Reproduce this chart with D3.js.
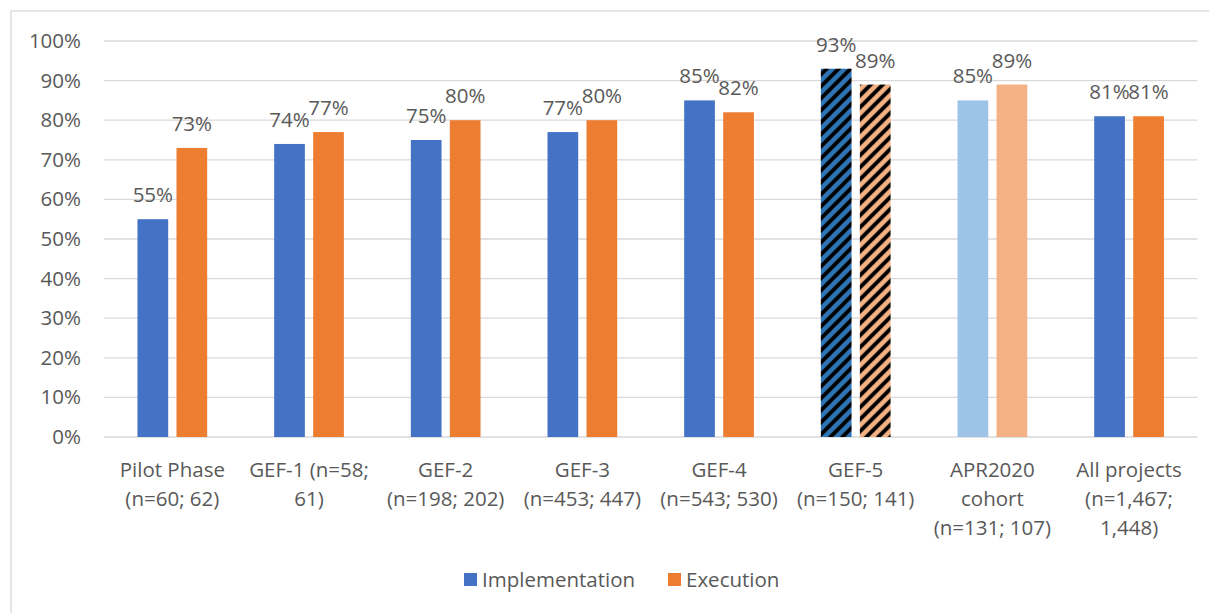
<!DOCTYPE html>
<html>
<head>
<meta charset="utf-8">
<script src="https://cdn.jsdelivr.net/npm/d3@7"></script>
<style>
  html, body { margin: 0; padding: 0; background: #fff; }
  svg { display: block; }
  text { font-family: "Open Sans", "Noto Sans", sans-serif; fill: #595959; }
</style>
</head>
<body>
<svg id="chart" width="1209" height="613"></svg>
<script>
// ---- data ----
const categories = ["Pilot Phase", "GEF-1", "GEF-2", "GEF-3", "GEF-4", "GEF-5", "APR2020 cohort", "All projects"];
const categoryLabelLines = [
  ["Pilot Phase", "(n=60; 62)"],
  ["GEF-1 (n=58;", "61)"],
  ["GEF-2", "(n=198; 202)"],
  ["GEF-3", "(n=453; 447)"],
  ["GEF-4", "(n=543; 530)"],
  ["GEF-5", "(n=150; 141)"],
  ["APR2020", "cohort", "(n=131; 107)"],
  ["All projects", "(n=1,467;", "1,448)"]
];
const seriesNames = ["Implementation", "Execution"];
const implementation = [0.55, 0.74, 0.75, 0.77, 0.85, 0.93, 0.85, 0.81];
const execution = [0.73, 0.77, 0.80, 0.80, 0.82, 0.89, 0.89, 0.81];
const yTicks = [0, 0.1, 0.2, 0.3, 0.4, 0.5, 0.6, 0.7, 0.8, 0.9, 1.0];

// ---- styling ----
const baseColors = { Implementation: "#4472C4", Execution: "#ED7D31" };
const hatchedCategory = "GEF-5";
const lightCategory = "APR2020 cohort";
const hatchBase = { Implementation: "#2E75B6", Execution: "#F4B183" };
const lightColors = { Implementation: "#9DC3E6", Execution: "#F4B183" };
const FS = "20.5px";

const svg = d3.select("#chart");
const W = 1209, H = 613;
const plot = { left: 104, right: 1197.4, top: 41, bottom: 437 };

// chart border
svg.append("rect").attr("x", 11).attr("y", 11).attr("width", W + 10).attr("height", H + 10)
  .attr("fill", "none").attr("stroke", "#D9D9D9").attr("stroke-width", 1.3);

// patterns
const defs = svg.append("defs");
const P = 12;
seriesNames.forEach((s, i) => {
  const p = defs.append("pattern").attr("id", "hatch" + i)
    .attr("patternUnits", "userSpaceOnUse").attr("width", P).attr("height", P);
  p.append("rect").attr("width", P).attr("height", P).attr("fill", hatchBase[s]);
  p.append("path").attr("d", `M-3,3 L3,-3 M0,${P} L${P},0 M${P - 3},${P + 3} L${P + 3},${P - 3}`)
    .attr("stroke", "#000").attr("stroke-width", 3.9);
});

const x0 = d3.scaleBand().domain(categories).range([plot.left, plot.right]).padding(0);
const bw = x0.bandwidth();
const x1 = d3.scaleBand().domain(seriesNames).range([bw * 0.245, bw * 0.755]).paddingInner(0.213);
const y = d3.scaleLinear().domain([0, 1]).range([plot.bottom, plot.top]);

// gridlines
svg.append("g").selectAll("line").data(yTicks).join("line")
  .attr("x1", plot.left).attr("x2", plot.right)
  .attr("y1", d => y(d)).attr("y2", d => y(d))
  .attr("stroke", "#D9D9D9").attr("stroke-width", 1.3);

// y axis labels
const yAxis = d3.axisLeft(y).tickValues(yTicks).tickFormat(d3.format(".0%")).tickSize(0).tickPadding(0);
const gy = svg.append("g").attr("transform", `translate(81,0)`).call(yAxis);
gy.select(".domain").remove();
gy.selectAll("text").style("font-size", FS).attr("fill", "#595959")
  .style("font-family", '"Open Sans", sans-serif');

function fillFor(cat, s, i) {
  if (cat === hatchedCategory) return `url(#hatch${i})`;
  if (cat === lightCategory) return lightColors[s];
  return baseColors[s];
}

const rows = categories.map((c, k) => ({ cat: c, values: [implementation[k], execution[k]] }));

const groups = svg.append("g").selectAll("g").data(rows).join("g")
  .attr("transform", d => `translate(${x0(d.cat)},0)`);

groups.selectAll("rect").data(d => d.values.map((v, i) => ({ cat: d.cat, s: seriesNames[i], i, v })))
  .join("rect")
  .attr("x", d => x1(d.s)).attr("width", x1.bandwidth())
  .attr("y", d => y(d.v)).attr("height", d => y(0) - y(d.v))
  .attr("fill", d => fillFor(d.cat, d.s, d.i));

groups.selectAll("text.lbl").data(d => d.values.map((v, i) => ({ s: seriesNames[i], v })))
  .join("text").attr("class", "lbl")
  .attr("x", d => x1(d.s) + x1.bandwidth() / 2)
  .attr("y", d => y(d.v) - 17)
  .attr("text-anchor", "middle")
  .style("font-size", FS)
  .attr("fill", "#404040")
  .text(d => d3.format(".0%")(d.v));

// x axis category labels
const gx = svg.append("g");
categories.forEach((c, k) => {
  const t = gx.append("text")
    .attr("x", x0(c) + bw / 2).attr("y", 476.5)
    .attr("text-anchor", "middle").style("font-size", FS);
  categoryLabelLines[k].forEach((line, j) => {
    t.append("tspan").attr("x", x0(c) + bw / 2).attr("y", 476.5 + j * 29).text(line);
  });
});

// legend
const legend = svg.append("g");
const legendItems = [{ s: "Implementation", x: 464 }, { s: "Execution", x: 668 }];
legendItems.forEach(it => {
  legend.append("rect").attr("x", it.x).attr("y", 573).attr("width", 13).attr("height", 13)
    .attr("fill", baseColors[it.s]);
  legend.append("text").attr("x", it.x + 18).attr("y", 587).style("font-size", FS).text(it.s);
});
</script>
</body>
</html>
